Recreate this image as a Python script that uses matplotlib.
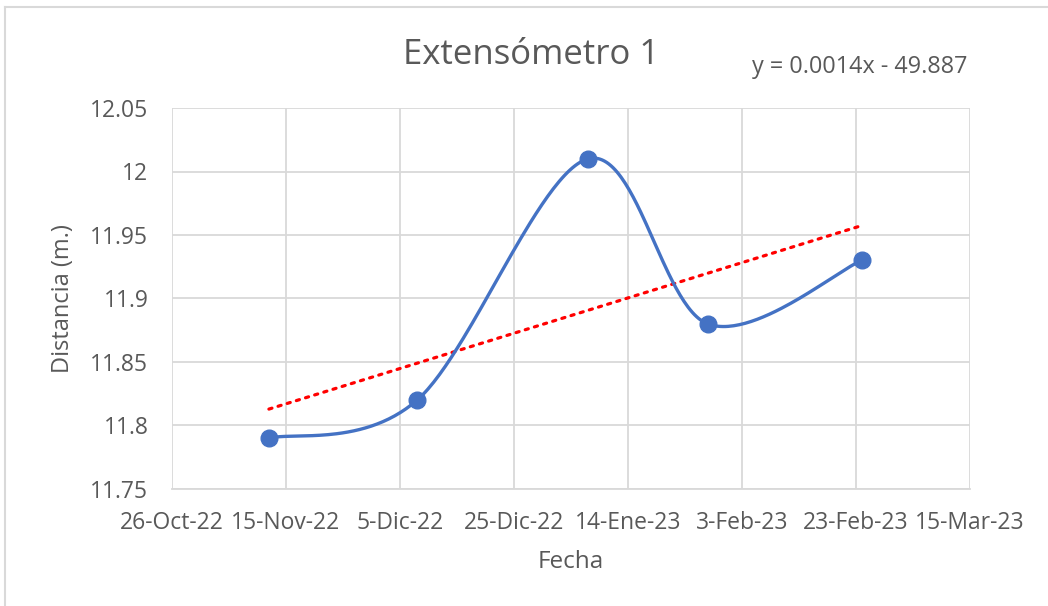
import matplotlib
matplotlib.use("Agg")
import matplotlib.pyplot as plt
import matplotlib.dates as mdates
import numpy as np
import datetime as dt

# Data
fechas = ["2022-11-12", "2022-12-08", "2023-01-07", "2023-01-28", "2023-02-24"]
distancias = [11.79, 11.82, 12.01, 11.88, 11.93]
xticks_labels = ["26-Oct-22", "15-Nov-22", "5-Dic-22", "25-Dic-22", "14-Ene-23",
                 "3-Feb-23", "23-Feb-23", "15-Mar-23"]
yticks = [11.75, 11.8, 11.85, 11.9, 11.95, 12.0, 12.05]
ytick_labels = ["11.75", "11.8", "11.85", "11.9", "11.95", "12", "12.05"]
titulo = "Extensómetro 1"
ecuacion = "y = 0.0014x - 49.887"

dates = [dt.datetime.strptime(d, "%Y-%m-%d") for d in fechas]
xn = np.array(mdates.date2num(dates))
yv = np.array(distancias)

def catmull(x, y, n=60):
    px, py = [], []
    N = len(x)
    for i in range(N - 1):
        x0, y0 = (x[i-1], y[i-1]) if i > 0 else (x[i], y[i])
        x1, y1 = x[i], y[i]
        x2, y2 = x[i+1], y[i+1]
        x3, y3 = (x[i+2], y[i+2]) if i + 2 < N else (x[i+1], y[i+1])
        c1x = x1 + (x2 - x0) / 6; c1y = y1 + (y2 - y0) / 6
        c2x = x2 - (x3 - x1) / 6; c2y = y2 - (y3 - y1) / 6
        t = np.linspace(0, 1, n)
        bx = (1-t)**3*x1 + 3*(1-t)**2*t*c1x + 3*(1-t)*t**2*c2x + t**3*x2
        by = (1-t)**3*y1 + 3*(1-t)**2*t*c1y + 3*(1-t)*t**2*c2y + t**3*y2
        px.extend(bx); py.extend(by)
    return np.array(px), np.array(py)

gray = "#595959"
fig = plt.figure(figsize=(10.48, 6.06), dpi=100)
ax = fig.add_axes([172/1048, 1-489/606, (970-172)/1048, (489-108)/606])

sx, sy = catmull(xn, yv)
ax.plot(sx, sy, color="#4472C4", lw=2.4, zorder=3, solid_capstyle="round")
ax.plot(xn, yv, "o", color="#4472C4", ms=12, zorder=4)

m, b = np.polyfit(xn, yv, 1)
tx = np.array([xn[0], xn[-1]])
ax.plot(tx, m*tx + b, color="#FF0000", lw=2.3, linestyle=(0, (1, 2)),
        dash_capstyle="round", zorder=2)

start = mdates.date2num(dt.datetime(2022, 10, 26))
ticks = [start + 20*i for i in range(len(xticks_labels))]
ax.set_xlim(ticks[0], ticks[-1])
ax.set_xticks(ticks)
ax.set_xticklabels(xticks_labels)
ax.set_ylim(11.75, 12.05)
ax.set_yticks(yticks)
ax.set_yticklabels(ytick_labels)

ax.grid(True, color="#D9D9D9", lw=1.3)
ax.set_axisbelow(True)
for s in ["top", "right", "left"]:
    ax.spines[s].set_visible(False)
ax.spines["bottom"].set_color("#D9D9D9")
ax.spines["bottom"].set_linewidth(1.3)
ax.tick_params(length=0, labelsize=16.5, colors=gray)
ax.tick_params(axis="x", pad=16)
ax.tick_params(axis="y", pad=17)
for lab in ax.get_xticklabels() + ax.get_yticklabels():
    lab.set_fontfamily("Open Sans")

fig.text(531/1048, 1-55/606, titulo, ha="center", va="center", fontsize=25,
         color=gray, family="Open Sans")
fig.text(860/1048, 1-67/606, ecuacion, ha="center", va="center", fontsize=16.8,
         color=gray, family="Open Sans")
fig.text(571/1048, 1-562/606, "Fecha", ha="center", va="center", fontsize=17.5,
         color=gray, family="Open Sans")
fig.text(63/1048, 1-299/606, "Distancia (m.)", ha="center", va="center", fontsize=17,
         color=gray, rotation=90, family="Open Sans")

# chart border (left and top)
fig.add_artist(plt.Line2D([5/1048, 5/1048], [0, 1-7/606], color="#D9D9D9", lw=1.5,
                          transform=fig.transFigure))
fig.add_artist(plt.Line2D([5/1048, 1], [1-7/606, 1-7/606], color="#D9D9D9", lw=1.5,
                          transform=fig.transFigure))

fig.savefig("out.png", dpi=100)
